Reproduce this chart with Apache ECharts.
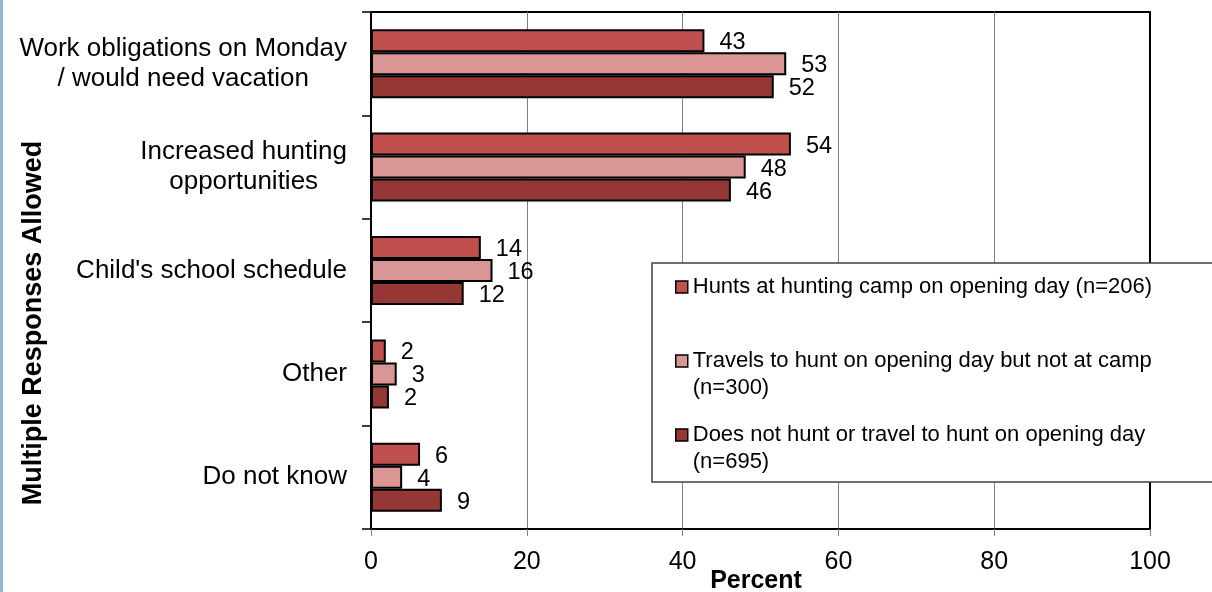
<!DOCTYPE html>
<html>
<head>
<meta charset="utf-8">
<script src="https://cdn.jsdelivr.net/npm/echarts@6/dist/echarts.min.js"></script>
<style>
html,body{margin:0;padding:0;background:#fff;}
#chart{width:1212px;height:592px;}
</style>
</head>
<body>
<div id="chart"></div>
<script>
const categories = [
  "Work obligations on Monday\n/ would need vacation",
  "Increased hunting\nopportunities",
  "Child's school schedule",
  "Other",
  "Do not know"
];
const seriesNames = [
  "Hunts at hunting camp on opening day (n=206)",
  "Travels to hunt on opening day but not at camp (n=300)",
  "Does not hunt or travel to hunt on opening day (n=695)"
];
const campValues = [42.8, 53.9, 14.1, 1.9, 6.3];
const travelValues = [53.3, 48.1, 15.6, 3.3, 4.0];
const noHuntValues = [51.7, 46.2, 11.9, 2.3, 9.1];
const xTicks = [0, 20, 40, 60, 80, 100];

const colors = ['#c0504d', '#d99694', '#953735'];
const FONT = '"Liberation Sans", Arial, sans-serif';

const legendText = {
  [seriesNames[0]]: "Hunts at hunting camp on opening day (n=206)",
  [seriesNames[1]]: "\nTravels to hunt on opening day but not at camp\n(n=300)",
  [seriesNames[2]]: "\nDoes not hunt or travel to hunt on opening day\n(n=695)"
};

function mkSeries(name, data, color) {
  return {
    name: name,
    type: 'bar',
    data: data,
    barWidth: 23,
    barGap: '0%',
    itemStyle: { color: color, borderColor: '#000', borderWidth: 2 },
    label: {
      show: true, position: 'right', distance: 15, offset: [0, 2],
      fontFamily: FONT, fontSize: 23.5, color: '#000',
      formatter: p => Math.round(p.value)
    }
  };
}

function mkLegend(name, top) {
  return {
    data: [name],
    left: 675, top: top,
    orient: 'vertical',
    padding: 0,
    icon: 'rect',
    itemWidth: 12, itemHeight: 12,
    itemStyle: { borderColor: '#000', borderWidth: 1.5 },
    textStyle: { fontFamily: FONT, fontSize: 22, color: '#000', lineHeight: 27 },
    formatter: n => legendText[n],
    selectedMode: false,
    z: 10
  };
}

const chart = echarts.init(document.getElementById('chart'), null, { renderer: 'canvas' });
chart.setOption({
  animation: false,
  backgroundColor: '#fff',
  grid: {
    left: 371, right: 62, top: 12, bottom: 63,
    outerBoundsMode: 'none', containLabel: false,
    show: true, borderColor: '#000', borderWidth: 2, backgroundColor: 'transparent'
  },
  xAxis: {
    type: 'value', min: xTicks[0], max: xTicks[xTicks.length - 1], interval: 20,
    axisLine: { show: true, lineStyle: { color: '#000', width: 2 } },
    axisTick: { show: true, length: 7, lineStyle: { color: '#808080', width: 1 } },
    axisLabel: { fontFamily: FONT, fontSize: 25, color: '#000', margin: 21 },
    splitLine: { show: true, lineStyle: { color: ['#808080', '#808080', '#808080', '#808080', '#808080', '#000'], width: 1 } }
  },
  yAxis: {
    type: 'category', data: categories, inverse: true,
    axisLine: { show: true, lineStyle: { color: '#000', width: 2 } },
    axisTick: { show: true, length: 9, lineStyle: { color: '#000', width: 1.5 } },
    axisLabel: {
      fontFamily: FONT, fontSize: 26, color: '#000', margin: 24, align: 'right',
      lineHeight: 30,
      formatter: v => v.split('\n').map(s => '{c|' + s + '}').join('\n'),
      rich: { c: { align: 'center', fontFamily: FONT, fontSize: 26, lineHeight: 30, color: '#000' } }
    },
    splitLine: { show: false }
  },
  legend: [
    mkLegend(seriesNames[0], 273.5),
    mkLegend(seriesNames[1], 320.5),
    mkLegend(seriesNames[2], 394.5)
  ],
  graphic: [
    { type: 'rect', left: 0, top: 0, shape: { x: 0, y: 0, width: 3, height: 592 }, style: { fill: '#95b3d7' }, z: 1 },
    { type: 'rect', z: 5, shape: { x: 652, y: 263, width: 600, height: 219 }, style: { fill: '#fff', stroke: '#404040', lineWidth: 1.5 } },
    { type: 'text', z: 5, x: 34, y: 323, rotation: Math.PI / 2,
      style: { text: 'Multiple Responses Allowed', fontFamily: FONT, fontSize: 27, fontWeight: 'bold', fill: '#000', align: 'center', verticalAlign: 'middle' } },
    { type: 'text', z: 5, x: 756, y: 581,
      style: { text: 'Percent', fontFamily: FONT, fontSize: 25, fontWeight: 'bold', fill: '#000', align: 'center', verticalAlign: 'middle' } }
  ],
  series: [
    mkSeries(seriesNames[0], campValues, colors[0]),
    mkSeries(seriesNames[1], travelValues, colors[1]),
    mkSeries(seriesNames[2], noHuntValues, colors[2])
  ]
});
</script>
</body>
</html>
